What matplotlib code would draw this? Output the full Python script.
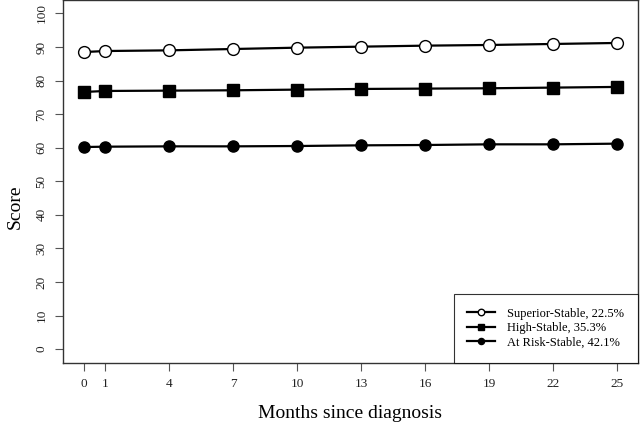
import matplotlib
matplotlib.use('Agg')
import matplotlib.pyplot as plt

# data
months = [0, 1, 4, 7, 10, 13, 16, 19, 22, 25]
superior_stable = [88.5, 88.8, 89.0, 89.4, 89.8, 90.1, 90.4, 90.6, 90.9, 91.2]
high_stable = [76.6, 76.9, 77.0, 77.1, 77.3, 77.5, 77.6, 77.7, 77.9, 78.1]
at_risk_stable = [60.2, 60.3, 60.4, 60.4, 60.5, 60.7, 60.8, 61.0, 61.0, 61.2]
labels = ['Superior-Stable, 22.5%', 'High-Stable, 35.3%', 'At Risk-Stable, 42.1%']
y_ticks = [0, 10, 20, 30, 40, 50, 60, 70, 80, 90, 100]

plt.rcParams['font.family'] = ['Liberation Serif', 'DejaVu Serif']

fig = plt.figure(figsize=(6.4, 4.28), dpi=100)
ax = fig.add_axes([0.098, 0.153, 0.899, 0.847])

ax.plot(months, superior_stable, color='black', lw=1.6, marker='o', ms=8.5,
        mfc='white', mec='black', mew=1.0, label=labels[0])
ax.plot(months, high_stable, color='black', lw=1.6, marker='s', ms=8.5,
        mfc='black', mec='black', label=labels[1])
ax.plot(months, at_risk_stable, color='black', lw=1.6, marker='o', ms=8,
        mfc='black', mec='black', label=labels[2])

ax.set_xlim(-1, 26)
ax.set_ylim(-4, 104)
ax.set_xticks(months)
ax.set_xticklabels([str(m) for m in months], fontsize=9.5)
ax.set_yticks(y_ticks)
ax.set_yticklabels([str(v) for v in y_ticks], fontsize=9.5, rotation=90, va='center')
ax.tick_params(axis='both', length=6, width=0.8, color='#555555', pad=5,
               labelcolor='#222222')

for s in ax.spines.values():
    s.set_linewidth(1.0)
    s.set_color('#333333')

ax.set_xlabel('Months since diagnosis', fontsize=14, labelpad=11)
ax.set_ylabel('Score', fontsize=14, labelpad=14)
ax.yaxis.set_label_coords(-0.068, 0.43)

leg = ax.legend(loc='lower right', fontsize=9, frameon=True, fancybox=False,
                markerscale=0.55, handlelength=2.2, borderpad=1.1,
                labelspacing=0.2, handletextpad=1.0, borderaxespad=0)
leg.get_frame().set_edgecolor('black')
leg.get_frame().set_linewidth(0.8)

fig.savefig('out.png', dpi=100)
